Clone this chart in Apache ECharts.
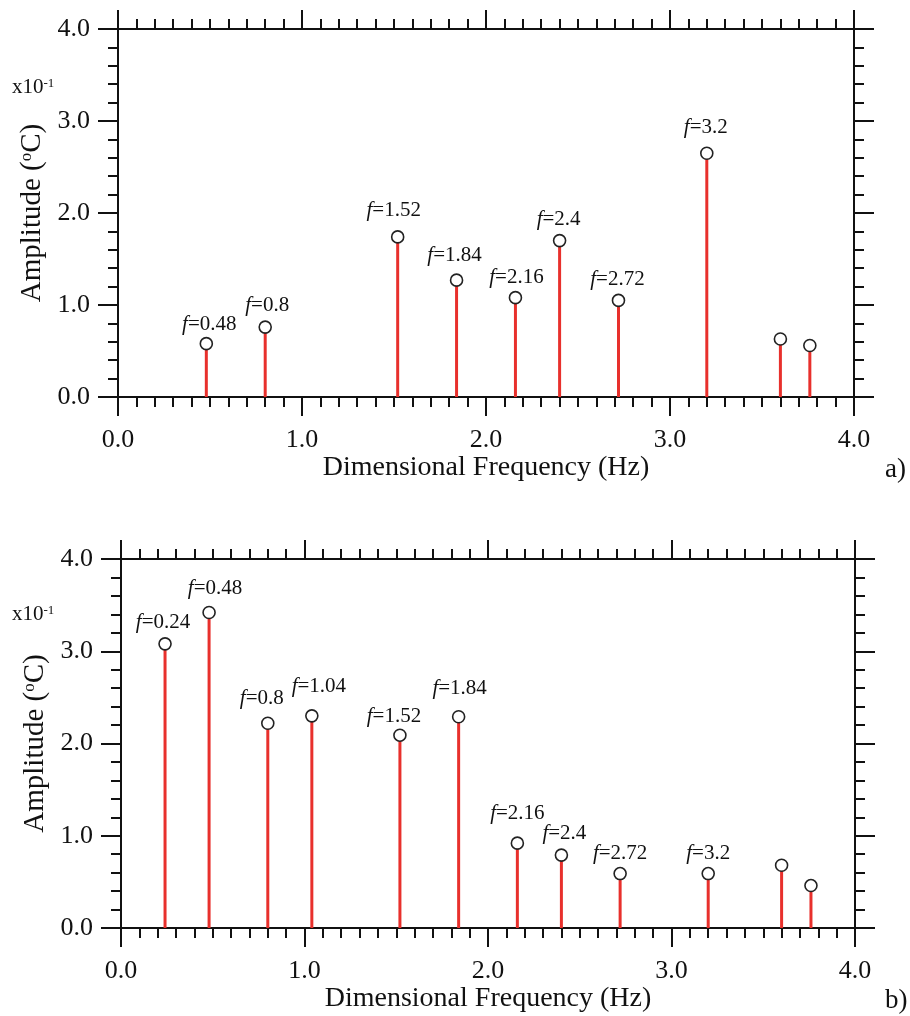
<!DOCTYPE html>
<html>
<head>
<meta charset="utf-8">
<script src="https://cdn.jsdelivr.net/npm/echarts@6/dist/echarts.min.js"></script>
<style>
  html, body { margin: 0; padding: 0; background: #fff; }
  #chart { width: 910px; height: 1016px; }
</style>
</head>
<body>
<div id="chart"></div>
<script>
// panel a) data, amplitude in x10^-1 oC
const freqA = [0.48, 0.8, 1.52, 1.84, 2.16, 2.4, 2.72, 3.2, 3.6, 3.76];
const ampA = [0.58, 0.76, 1.74, 1.27, 1.08, 1.70, 1.05, 2.65, 0.63, 0.56];
const tagA = ["0.48", "0.8", "1.52", "1.84", "2.16", "2.4", "2.72", "3.2", "", ""];

// panel b)
const freqB = [0.24, 0.48, 0.8, 1.04, 1.52, 1.84, 2.16, 2.4, 2.72, 3.2, 3.6, 3.76];
const ampB = [3.08, 3.42, 2.22, 2.30, 2.09, 2.29, 0.92, 0.79, 0.59, 0.59, 0.68, 0.46];
const tagB = ["0.24", "0.48", "0.8", "1.04", "1.52", "1.84", "2.16", "2.4", "2.72", "3.2", "", ""];

const xTicks = [0, 1, 2, 3, 4];
const yTicks = [0, 1, 2, 3, 4];

// small hand placement of the f= labels (px), like the figure
const nudgeA = [[3, 2], [2, 0], [-4, -5], [-2, -3], [1, 1], [-1, 0], [-1, 0], [-1, -4], [0, 0], [0, 0]];
const nudgeB = [[-2, 0], [6, -3], [-6, -3], [7, -8], [-6, 3], [1, -7], [0, -8], [3, 0], [0, 1], [0, 1], [0, 0], [0, 0]];

const FONT = "Liberation Serif";
const myChart = echarts.init(document.getElementById("chart"));

function xAxisOf(grid, pos) {
  return {
    type: "value",
    gridIndex: grid,
    position: pos,
    min: xTicks[0],
    max: xTicks[xTicks.length - 1],
    interval: 1,
    name: pos === "bottom" ? "Dimensional Frequency (Hz)" : "",
    nameLocation: "middle",
    nameGap: 57,
    nameTextStyle: { fontFamily: FONT, fontSize: 28, color: "#111" },
    axisLine: { show: true, onZero: false, lineStyle: { color: "#111", width: 2 } },
    axisTick: { show: true, inside: false, length: 19, lineStyle: { color: "#111", width: 2 } },
    minorTick: { show: true, splitNumber: 10, length: 10, lineStyle: { color: "#111", width: 2 } },
    splitLine: { show: false },
    axisLabel: {
      show: pos === "bottom",
      margin: 30,
      fontFamily: FONT,
      fontSize: 26,
      color: "#111",
      formatter: (v) => v.toFixed(1),
    },
  };
}

function yAxisOf(grid, pos) {
  return {
    type: "value",
    gridIndex: grid,
    position: pos,
    min: yTicks[0],
    max: yTicks[yTicks.length - 1],
    interval: 1,
    name: pos === "left" ? "{t|Amplitude (}{s|o}{t|C)}" : "",
    nameLocation: "middle",
    nameRotate: 90,
    nameGap: 71,
    nameTextStyle: {
      rich: {
        t: { fontFamily: FONT, fontSize: 29, color: "#111" },
        s: { fontFamily: FONT, fontSize: 17, color: "#111", verticalAlign: "top", padding: [0, 0, 12, 0] },
      },
    },
    axisLine: { show: true, onZero: false, lineStyle: { color: "#111", width: 2 } },
    axisTick: { show: true, inside: false, length: 20, lineStyle: { color: "#111", width: 2 } },
    minorTick: { show: true, splitNumber: 5, length: 10, lineStyle: { color: "#111", width: 2 } },
    splitLine: { show: false },
    axisLabel: {
      show: pos === "left",
      margin: 28,
      fontFamily: FONT,
      fontSize: 26,
      color: "#111",
      formatter: (v) => v.toFixed(1),
    },
  };
}

function stems(idx, freq, amp) {
  return {
    type: "bar",
    xAxisIndex: idx * 2,
    yAxisIndex: idx * 2,
    barWidth: 3,
    data: freq.map((f, i) => [f, amp[i]]),
    itemStyle: { color: "#e8302c" },
    silent: true,
    z: 2,
  };
}

function heads(idx, freq, amp, tags, nudge) {
  return {
    type: "scatter",
    xAxisIndex: idx * 2,
    yAxisIndex: idx * 2,
    symbol: "circle",
    symbolSize: 12,
    data: freq.map((f, i) => ({
      value: [f, amp[i]],
      label: { show: tags[i] !== "", offset: nudge[i] },
    })),
    itemStyle: { color: "#fff", borderColor: "#222", borderWidth: 1.6, opacity: 1 },
    label: {
      position: "top",
      distance: 4,
      formatter: (p) => "{i|f}{n|=" + tags[p.dataIndex] + "}",
      rich: {
        i: { fontFamily: FONT, fontStyle: "italic", fontSize: 21, color: "#111" },
        n: { fontFamily: FONT, fontSize: 21, color: "#111" },
      },
    },
    z: 3,
  };
}

function powerTag(top) {
  return {
    type: "text", left: 12, top: top,
    style: {
      text: "{t|x10}{s|-1}",
      rich: {
        t: { fontFamily: FONT, fontSize: 21, fill: "#111" },
        s: { fontFamily: FONT, fontSize: 13, fill: "#111", verticalAlign: "top", padding: [0, 0, 8, 0] },
      },
    },
  };
}

const option = {
  backgroundColor: "#fff",
  animation: false,
  grid: [
    { left: 118, top: 29, width: 736, height: 368, outerBoundsMode: "none" },
    { left: 121, top: 559, width: 734, height: 369, outerBoundsMode: "none" },
  ],
  xAxis: [xAxisOf(0, "bottom"), xAxisOf(0, "top"), xAxisOf(1, "bottom"), xAxisOf(1, "top")],
  yAxis: [yAxisOf(0, "left"), yAxisOf(0, "right"), yAxisOf(1, "left"), yAxisOf(1, "right")],
  series: [
    stems(0, freqA, ampA),
    heads(0, freqA, ampA, tagA, nudgeA),
    stems(1, freqB, ampB),
    heads(1, freqB, ampB, tagB, nudgeB),
  ],
  graphic: [
    powerTag(77),
    powerTag(604),
    { type: "text", left: 885, top: 456, style: { text: "a)", fontFamily: FONT, fontSize: 27, fill: "#111" } },
    { type: "text", left: 885, top: 987, style: { text: "b)", fontFamily: FONT, fontSize: 27, fill: "#111" } },
  ],
};

myChart.setOption(option);
</script>
</body>
</html>
